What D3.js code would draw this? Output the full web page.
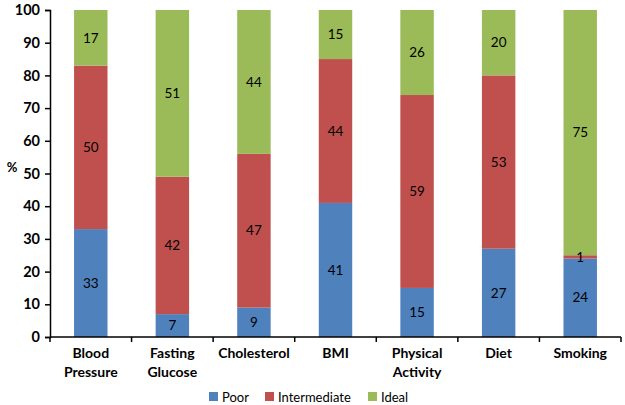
<!DOCTYPE html>
<html><head><meta charset="utf-8">
<script src="https://cdn.jsdelivr.net/npm/d3@7"></script>
<style>body{margin:0;background:#fff}svg{display:block}</style>
</head><body>
<script>
const categories = [["Blood","Pressure"],["Fasting","Glucose"],["Cholesterol"],["BMI"],["Physical","Activity"],["Diet"],["Smoking"]];
const seriesNames = ["Poor","Intermediate","Ideal"];
const poor = [33,7,9,41,15,27,24];
const intermediate = [50,42,47,44,59,53,1];
const ideal = [17,51,44,15,26,20,75];
const yTicks = [0,10,20,30,40,50,60,70,80,90,100];
const colors = ["#4F81BD","#C0504D","#9BBB59"];

const W=625,H=405, m={l:50,r:4,t:10,b:68};
const font = "Lato, 'Open Sans', sans-serif";
const svg=d3.select("body").append("svg").attr("width",W).attr("height",H);
const keys = categories.map((c,i)=>i);
const x=d3.scaleBand().domain(keys).range([m.l,W-m.r]).paddingInner(0.59).paddingOuter(0.295);
const xo=d3.scaleBand().domain(keys).range([m.l,W-m.r]);
const y=d3.scaleLinear().domain([0,100]).range([H-m.b,m.t]);
const rows = keys.map(i=>({i, Poor:poor[i], Intermediate:intermediate[i], Ideal:ideal[i]}));
const stack=d3.stack().keys(seriesNames)(rows);

const g=svg.append("g");
stack.forEach((s,si)=>{
  g.selectAll(null).data(s).enter().append("rect")
   .attr("x",d=>x(d.data.i)).attr("width",x.bandwidth())
   .attr("y",d=>y(d[1])).attr("height",d=>y(d[0])-y(d[1]))
   .attr("fill",colors[si]);
});
stack.forEach((s,si)=>{
  g.selectAll(null).data(s).enter().append("text")
   .attr("x",d=>x(d.data.i)+x.bandwidth()/2).attr("y",d=>y((d[0]+d[1])/2))
   .attr("dy","0.35em").attr("text-anchor","middle")
   .style("font-family",font).style("font-size","13.5px").attr("fill","#000")
   .text(d=>d[1]-d[0]);
});

// y axis
const ya=svg.append("g").attr("transform",`translate(${m.l},0)`)
 .call(d3.axisLeft(y).tickValues(yTicks).tickSize(5).tickPadding(5));
ya.select(".domain").attr("stroke","#000").attr("stroke-width",1.5);
ya.selectAll(".tick line").attr("stroke","#000").attr("stroke-width",1.5);
ya.selectAll("text").style("font-family",font).style("font-size","14.5px").style("font-weight","bold").attr("fill","#000");

// x axis
const xa=svg.append("g").attr("transform",`translate(0,${y(0)})`);
xa.append("line").attr("x1",m.l).attr("x2",W-m.r).attr("stroke","#000").attr("stroke-width",1.5);
xa.selectAll(null).data(keys.concat([keys.length])).enter().append("line")
 .attr("x1",d=>d<keys.length?xo(d):xo(keys.length-1)+xo.bandwidth())
 .attr("x2",d=>d<keys.length?xo(d):xo(keys.length-1)+xo.bandwidth())
 .attr("y1",0).attr("y2",5).attr("stroke","#000").attr("stroke-width",1.5);
keys.forEach(i=>{
  const t=xa.append("text").attr("text-anchor","middle")
   .style("font-family",font).style("font-size","14px").style("font-weight","bold").attr("fill","#000");
  categories[i].forEach((line,li)=>{
    t.append("tspan").attr("x",xo(i)+xo.bandwidth()/2).attr("y",21+li*19).text(line);
  });
});

svg.append("text").attr("x",12).attr("y",172).attr("text-anchor","middle")
 .style("font-family",font).style("font-size","13px").style("font-weight","bold").text("%");

// legend
const legX=[209,265,368];
seriesNames.forEach((n,i)=>{
  const lg=svg.append("g").attr("transform",`translate(${legX[i]},397)`);
  lg.append("rect").attr("x",0).attr("y",-5).attr("width",9).attr("height",9).attr("fill",colors[i]);
  lg.append("text").attr("x",13).attr("y",0).attr("dy","0.35em")
   .style("font-family",font).style("font-size","13px").attr("fill","#000").text(n);
});
</script>
</body></html>
